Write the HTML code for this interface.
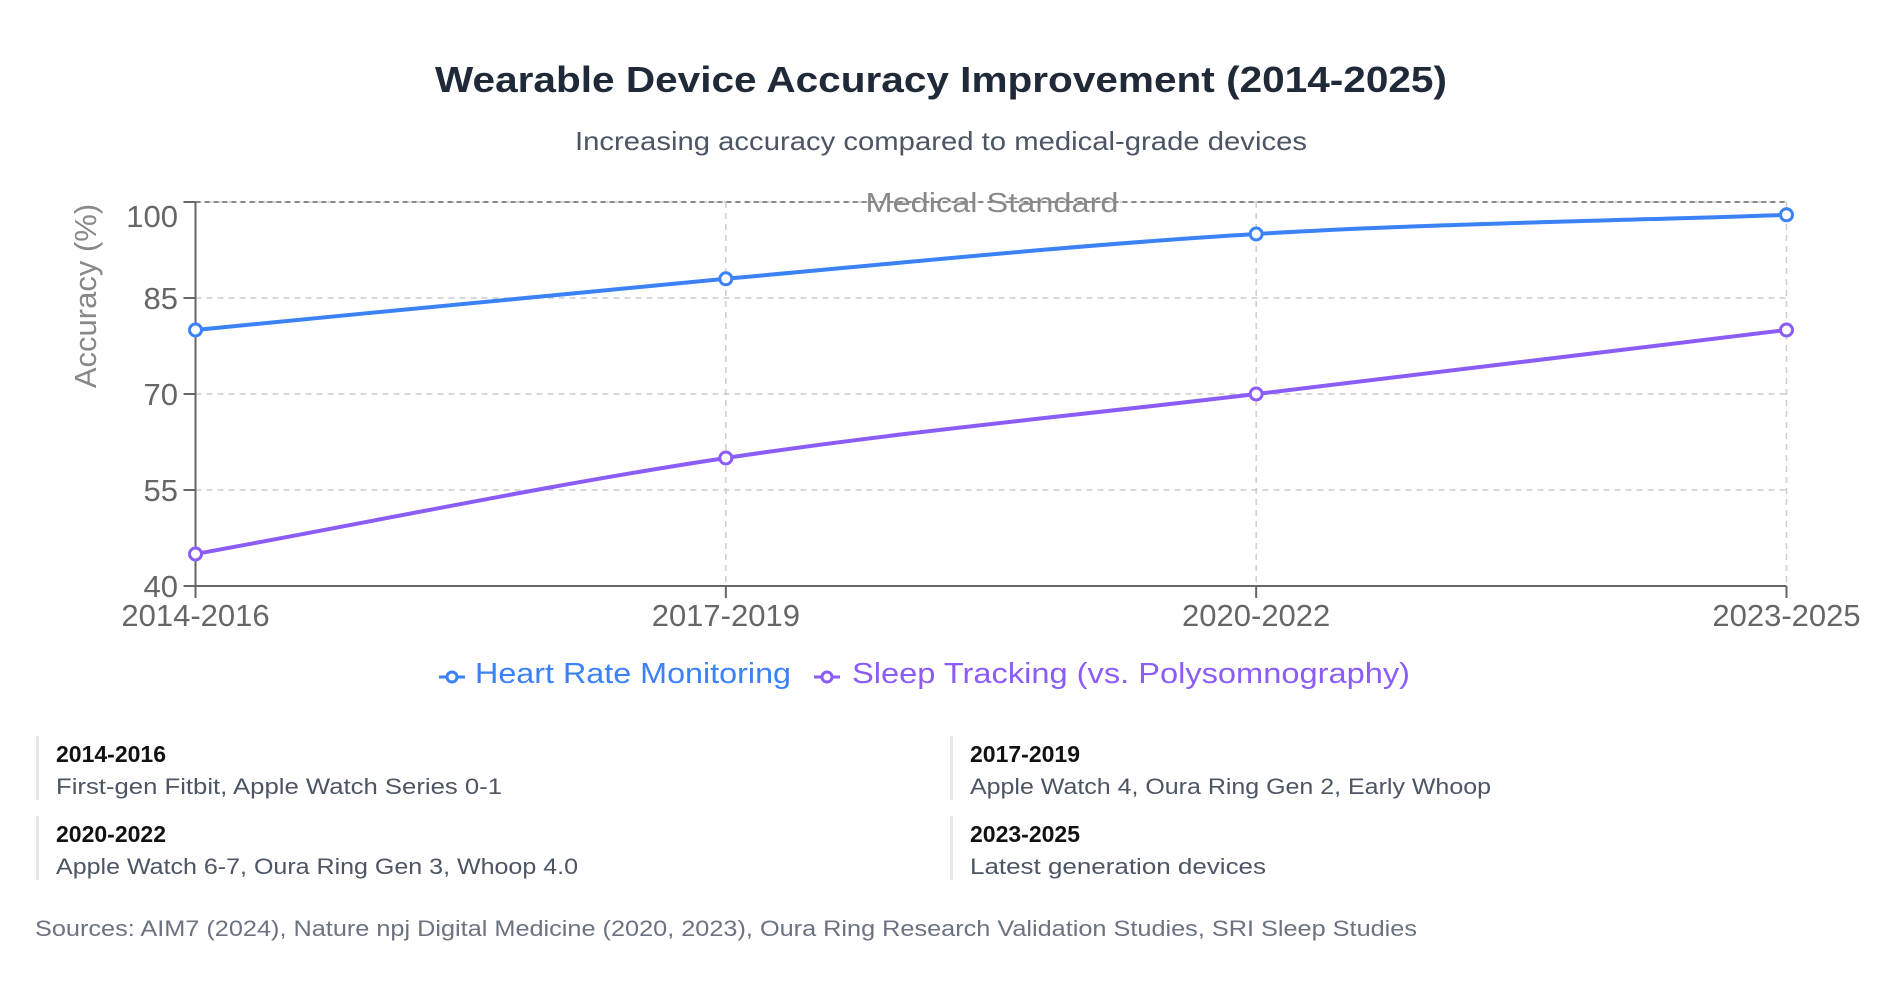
<!DOCTYPE html>
<html><head><meta charset="utf-8"><style>
html,body{margin:0;padding:0;background:#fff;width:1878px;height:992px;overflow:hidden;font-family:"Liberation Sans",sans-serif}
</style></head><body>
<svg id="chart" width="1878" height="992" viewBox="0 0 1878 992" xmlns="http://www.w3.org/2000/svg" font-family="Liberation Sans, sans-serif">
<text x="941" y="92" text-anchor="middle" font-size="36" font-weight="bold" fill="#1f2937" textLength="1012" lengthAdjust="spacingAndGlyphs">Wearable Device Accuracy Improvement (2014-2025)</text>
<text x="941" y="150" text-anchor="middle" font-size="26" fill="#4b5563" textLength="732" lengthAdjust="spacingAndGlyphs">Increasing accuracy compared to medical-grade devices</text>
<g id="grid"></g>
<g id="axes"></g>
<g id="series"></g>
<text transform="translate(96,296) rotate(-90)" text-anchor="middle" font-size="31" fill="#888">Accuracy (%)</text>
<g>
<g>
<line x1="439" y1="677" x2="465" y2="677" stroke="#3b82f6" stroke-width="3"/>
<circle cx="452" cy="677" r="5" fill="#fff" stroke="#3b82f6" stroke-width="3"/>
<text x="475" y="683" font-size="29" fill="#3b82f6" textLength="316" lengthAdjust="spacingAndGlyphs">Heart Rate Monitoring</text>
</g>
<g>
<line x1="814" y1="677" x2="840" y2="677" stroke="#8b5cf6" stroke-width="3"/>
<circle cx="827" cy="677" r="5" fill="#fff" stroke="#8b5cf6" stroke-width="3"/>
<text x="852" y="683" font-size="29" fill="#8b5cf6" textLength="558" lengthAdjust="spacingAndGlyphs">Sleep Tracking (vs. Polysomnography)</text>
</g>
</g>
<g>
<g>
<rect x="36" y="736" width="3" height="64" fill="#e5e7eb"/>
<text x="56" y="762" font-size="23" font-weight="bold" fill="#111">2014-2016</text>
<text x="56" y="794" font-size="22" fill="#4b5563" textLength="446" lengthAdjust="spacingAndGlyphs">First-gen Fitbit, Apple Watch Series 0-1</text>
</g>
<g>
<rect x="950" y="736" width="3" height="64" fill="#e5e7eb"/>
<text x="970" y="762" font-size="23" font-weight="bold" fill="#111">2017-2019</text>
<text x="970" y="794" font-size="22" fill="#4b5563" textLength="521" lengthAdjust="spacingAndGlyphs">Apple Watch 4, Oura Ring Gen 2, Early Whoop</text>
</g>
<g>
<rect x="36" y="816" width="3" height="64" fill="#e5e7eb"/>
<text x="56" y="842" font-size="23" font-weight="bold" fill="#111">2020-2022</text>
<text x="56" y="874" font-size="22" fill="#4b5563" textLength="522" lengthAdjust="spacingAndGlyphs">Apple Watch 6-7, Oura Ring Gen 3, Whoop 4.0</text>
</g>
<g>
<rect x="950" y="816" width="3" height="64" fill="#e5e7eb"/>
<text x="970" y="842" font-size="23" font-weight="bold" fill="#111">2023-2025</text>
<text x="970" y="874" font-size="22" fill="#4b5563" textLength="296" lengthAdjust="spacingAndGlyphs">Latest generation devices</text>
</g>
</g>
<text x="35" y="936" font-size="22" fill="#6b7280" textLength="1382" lengthAdjust="spacingAndGlyphs">Sources: AIM7 (2024), Nature npj Digital Medicine (2020, 2023), Oura Ring Research Validation Studies, SRI Sleep Studies</text>
</svg>
<script>
const categories = ["2014-2016","2017-2019","2020-2022","2023-2025"];
const heartRate = [80, 88, 95, 98];
const sleepTracking = [45, 60, 70, 80];
const yTicks = [40, 55, 70, 85, 100];
const medicalStandard = 100;

const NS = "http://www.w3.org/2000/svg";
const X0 = 195.5, X1 = 1786.5, Y0 = 586, Y1 = 202, YMIN = 40, YMAX = 100;
const xs = i => X0 + (X1 - X0) * i / (categories.length - 1);
const ys = v => Y0 - (v - YMIN) / (YMAX - YMIN) * (Y0 - Y1);
function mk(tag, attrs, parent){const e=document.createElementNS(NS,tag);for(const k in attrs)e.setAttribute(k,attrs[k]);parent.appendChild(e);return e;}
const grid=document.getElementById('grid'), axes=document.getElementById('axes'), series=document.getElementById('series');

yTicks.forEach(t=>{
  if(t===YMIN) return;
  const l=mk('line',{x1:X0,x2:X1,y1:ys(t),y2:ys(t),stroke:'#ccc','stroke-width':1.5,'stroke-dasharray':'6 5'},grid);
  
  
});
categories.forEach((c,i)=>{
  const l=mk('line',{x1:xs(i),x2:xs(i),y1:Y1,y2:Y0,stroke:'#ccc','stroke-width':1.5,'stroke-dasharray':'6 5'},grid);
  
  
});
const ref=mk('line',{x1:X0,x2:X1,y1:ys(medicalStandard),y2:ys(medicalStandard),stroke:'#666','stroke-width':1.5,'stroke-dasharray':'5 4'},grid);


const refLbl=mk('text',{x:992,y:ys(medicalStandard)+10,'text-anchor':'middle','font-size':28,fill:'#888',textLength:253,lengthAdjust:'spacingAndGlyphs'},grid);
refLbl.textContent='Medical Standard';



const ya=mk('line',{x1:X0,x2:X0,y1:Y1,y2:Y0,stroke:'#666','stroke-width':2},axes);


const xa=mk('line',{x1:X0,x2:X1,y1:Y0,y2:Y0,stroke:'#666','stroke-width':2},axes);


yTicks.forEach(t=>{
  mk('line',{x1:X0-12,x2:X0,y1:ys(t),y2:ys(t),stroke:'#666','stroke-width':2},axes);
  const yy = Math.max(ys(t), Y1 + 14);
  const tx=mk('text',{x:178,y:yy+11,'text-anchor':'end','font-size':31,fill:'#666'},axes);
  tx.textContent=t;
  
  
});
categories.forEach((c,i)=>{
  mk('line',{x1:xs(i),x2:xs(i),y1:Y0,y2:Y0+12,stroke:'#666','stroke-width':2},axes);
  const tx=mk('text',{x:xs(i),y:626,'text-anchor':'middle','font-size':31,fill:'#666'},axes);
  tx.textContent=c;
  
  
});

function monotonePath(pts){
  const n=pts.length, d=[], m=[];
  for(let i=0;i<n-1;i++) d.push((pts[i+1][1]-pts[i][1])/(pts[i+1][0]-pts[i][0]));
  for(let i=0;i<n;i++){
    if(i===0) m.push(d[0]); else if(i===n-1) m.push(d[n-2]);
    else m.push(d[i-1]*d[i]<=0?0:(d[i-1]+d[i])/2);
  }
  let s=`M${pts[0][0]},${pts[0][1]}`;
  for(let i=0;i<n-1;i++){
    const h=(pts[i+1][0]-pts[i][0])/3;
    s+=` C${pts[i][0]+h},${pts[i][1]+m[i]*h} ${pts[i+1][0]-h},${pts[i+1][1]-m[i+1]*h} ${pts[i+1][0]},${pts[i+1][1]}`;
  }
  return s;
}
function drawSeries(vals,color,name){
  const pts=vals.map((v,i)=>[xs(i),ys(v)]);
  const p=mk('path',{d:monotonePath(pts),fill:'none',stroke:color,'stroke-width':4},series);
  
  
  pts.forEach(pt=>{
    const c=mk('circle',{cx:pt[0],cy:pt[1],r:6,fill:'#fff',stroke:color,'stroke-width':3},series);
    
    
  });
}
drawSeries(heartRate,'#3b82f6','heart-rate');
drawSeries(sleepTracking,'#8b5cf6','sleep-tracking');
</script>
</body></html>
